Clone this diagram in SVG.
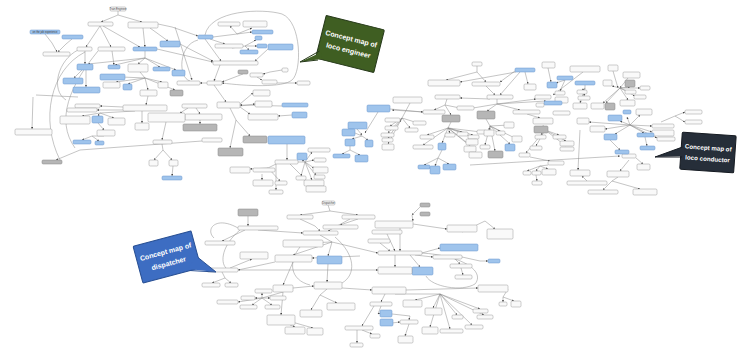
<svg xmlns="http://www.w3.org/2000/svg" width="741" height="348" viewBox="0 0 741 348">
<defs>
<marker id="a" viewBox="0 0 6 6" refX="6" refY="3" markerWidth="4" markerHeight="4" orient="auto"><path d="M0,0 L6,3 L0,6z" fill="#444"/></marker>
<style>
.n{fill:#f9f9f9;stroke:#9a9a9a;stroke-width:0.5}
.b{fill:#9fc4ec;stroke:#6b97cc;stroke-width:0.5}
.g{fill:#b6b6b6;stroke:#868686;stroke-width:0.5}
rect{rx:1.2;ry:1.2}
#connectors path{fill:none;stroke:#8a8a8a;stroke-width:0.5}
.m{marker-end:url(#a)}
.t{font-family:"Liberation Sans",Arial,sans-serif;font-size:2.6px;fill:#333;text-anchor:middle}
.ct{font-family:"Liberation Sans",Arial,sans-serif;font-weight:bold;font-size:7px;fill:#fff;text-anchor:middle}
</style>
</defs>
<rect x="0" y="0" width="741" height="348" fill="#fff" rx="0" ry="0"/>

<g id="connectors">
<!-- engineer -->
<path d="M118,11 L118,15"/>
<path class="m" d="M118,15 L101,22"/>
<path class="m" d="M118,15 L142,22"/>
<path class="m" d="M100,26 L86,47"/>
<path class="m" d="M100,26 L111,47"/>
<path class="m" d="M103,26 L140,47"/>
<path class="m" d="M143,28 L145,47"/>
<path class="m" d="M150,28 L168,41"/>
<path class="m" d="M45,34 L52,43 L57,52"/>
<path class="m" d="M72,39 L66,44 L58,52"/>
<path class="m" d="M85,51 L85,64"/>
<path class="m" d="M112,51 L114,65"/>
<path d="M145,51 L145,58"/>
<path class="m" d="M145,58 L88,64"/>
<path class="m" d="M145,58 L115,65"/>
<path class="m" d="M145,58 L138,64"/>
<path class="m" d="M145,58 L160,67"/>
<path class="m" d="M145,58 L176,70"/>
<path class="m" d="M82,70 L74,78"/>
<path class="m" d="M86,70 L86,87"/>
<path d="M140,72 L145,78"/>
<path class="m" d="M145,78 L122,77"/>
<path class="m" d="M145,78 L116,82"/>
<path class="m" d="M145,78 L128,84"/>
<path class="m" d="M145,78 L162,82"/>
<path class="m" d="M145,78 L175,90"/>
<path class="m" d="M145,78 L148,90"/>
<path class="m" d="M148,96 L146,105"/>
<path class="m" d="M123,107 L100,106"/>
<path class="m" d="M125,110 L97,110"/>
<path d="M135,111 L100,113"/>
<path class="m" d="M100,113 L82,116"/>
<path class="m" d="M100,113 L98,116"/>
<path class="m" d="M100,113 L114,118"/>
<path class="m" d="M98,123 L104,130"/>
<path class="m" d="M104,136 L92,136 L82,140"/>
<path class="m" d="M92,136 L99,141"/>
<path class="m" d="M142,111 L142,123"/>
<path class="m" d="M166,122 L162,140"/>
<path class="m" d="M162,144 L163,150 L154,160"/>
<path class="m" d="M163,150 L172,160"/>
<path class="m" d="M173,166 L172,176"/>
<path class="m" d="M196,108 L200,114"/>
<path class="m" d="M200,120 L200,124"/>
<path class="m" d="M188,108 L180,113"/>
<path class="m" d="M205,39 L221,61"/>
<path d="M213,37 L237,34"/>
<path class="m" d="M237,34 L230,26"/>
<path class="m" d="M237,34 L252,28"/>
<path class="m" d="M237,34 L252,32"/>
<path class="m" d="M210,39 L225,44"/>
<path d="M232,48 L245,46"/>
<path class="m" d="M245,46 L256,40"/>
<path class="m" d="M245,46 L257,46"/>
<path class="m" d="M245,46 L249,50"/>
<path class="m" d="M268,49 L255,61"/>
<path class="m" d="M157,49 L213,62"/>
<path class="m" d="M180,44 L213,61"/>
<path class="m" d="M220,65 L214,81"/>
<path class="m" d="M207,83 L200,83"/>
<path class="m" d="M243,74 L222,82"/>
<path class="m" d="M282,70 L270,72 L263,74"/>
<path class="m" d="M277,83 L297,83"/>
<path class="m" d="M257,77 L262,80"/>
<path class="m" d="M214,85 L226,102"/>
<path class="m" d="M240,104 L253,93"/>
<path class="m" d="M240,106 L255,104"/>
<path class="m" d="M240,107 L250,114"/>
<path class="m" d="M282,106 L240,105"/>
<path class="m" d="M292,115 L278,116"/>
<path d="M230,108 L236,120"/>
<path class="m" d="M236,120 L230,148"/>
<path class="m" d="M236,120 L250,136"/>
<path class="m" d="M287,144 L287,160"/>
<path d="M298,162 L305,162"/>
<path class="m" d="M305,162 L312,152"/>
<path class="m" d="M305,162 L314,160"/>
<path class="m" d="M305,162 L314,168"/>
<path class="m" d="M305,162 L316,175"/>
<path class="m" d="M305,162 L312,180"/>
<path class="m" d="M305,162 L301,176"/>
<path class="m" d="M305,162 L302,160"/>
<path d="M276,164 L268,168"/>
<path class="m" d="M268,168 L250,169"/>
<path class="m" d="M268,168 L263,170"/>
<path class="m" d="M262,174 L262,180"/>
<path class="m" d="M268,168 L280,181"/>
<path class="m" d="M276,164 L276,190"/>
<path class="m" d="M290,164 L312,186"/>
<path class="m" d="M202,141 L80,150 L56,160"/>
<path class="m" d="M33,97 L32,129"/>
<path d="M36,95 L78,97"/>
<path d="M85,52 C50,70 40,120 60,160"/>
<path d="M98,51 C70,85 55,120 75,148"/>
<path d="M78,50 C58,60 50,90 66,100"/>
<path class="m" d="M205,35 C210,10 262,8 282,14 C302,22 302,72 292,80 C283,88 245,86 222,83"/>
<path d="M198,40 C178,45 178,78 190,81"/>
<path class="m" d="M175,27 L192,80"/>
<path class="m" d="M158,24 L172,27 L198,36"/>
<!-- conductor -->
<path d="M477,66 L477,72"/>
<path class="m" d="M477,72 L446,80"/>
<path class="m" d="M477,72 L486,82"/>
<path class="m" d="M515,71 L500,82"/>
<path class="m" d="M516,72 L460,82"/>
<path class="m" d="M525,72 L528,84"/>
<path class="m" d="M520,72 L500,95"/>
<path class="m" d="M486,86 L495,95"/>
<path class="m" d="M490,99 L460,98"/>
<path d="M497,99 L497,104"/>
<path class="m" d="M497,104 L467,109"/>
<path class="m" d="M497,104 L487,111"/>
<path class="m" d="M497,104 L520,110"/>
<path class="m" d="M497,104 L536,99"/>
<path class="m" d="M497,104 L546,101"/>
<path class="m" d="M565,80 L556,83"/>
<path class="m" d="M565,80 L560,91"/>
<path d="M585,85 L585,88"/>
<path class="m" d="M585,88 L582,90"/>
<path class="m" d="M585,88 L584,96"/>
<path class="m" d="M585,88 L580,103"/>
<path class="m" d="M613,71 L618,88"/>
<path class="m" d="M628,78 L620,88"/>
<path class="m" d="M620,88 L612,86"/>
<path class="m" d="M620,88 L630,87"/>
<path class="m" d="M620,88 L640,88"/>
<path class="m" d="M620,88 L630,92"/>
<path class="m" d="M620,88 L635,96"/>
<path class="m" d="M620,88 L628,100"/>
<path class="m" d="M620,88 L603,103"/>
<path class="m" d="M620,88 L606,103"/>
<path class="m" d="M583,72 L553,95"/>
<path class="m" d="M548,68 L551,82"/>
<path d="M447,99 L445,105"/>
<path class="m" d="M445,105 L434,110"/>
<path class="m" d="M445,105 L451,115"/>
<path class="m" d="M445,105 L460,108"/>
<path class="m" d="M423,112 L392,110"/>
<path d="M410,103 L402,118"/>
<path class="m" d="M402,118 L400,122"/>
<path class="m" d="M402,118 L390,126"/>
<path class="m" d="M402,118 L418,123"/>
<path class="m" d="M402,118 L410,128"/>
<path class="m" d="M402,118 L388,133"/>
<path class="m" d="M402,118 L388,138"/>
<path class="m" d="M402,118 L388,144"/>
<path d="M451,122 L448,128"/>
<path class="m" d="M448,128 L427,135"/>
<path class="m" d="M448,128 L423,145"/>
<path class="m" d="M448,128 L442,143"/>
<path class="m" d="M448,128 L450,133"/>
<path class="m" d="M448,128 L462,132"/>
<path class="m" d="M448,128 L473,135"/>
<path class="m" d="M448,128 L481,132"/>
<path class="m" d="M448,128 L472,137"/>
<path class="m" d="M448,128 L470,145"/>
<path class="m" d="M448,128 L475,150"/>
<path d="M486,119 L490,126"/>
<path class="m" d="M490,126 L489,130"/>
<path class="m" d="M490,126 L509,125"/>
<path class="m" d="M490,126 L485,145"/>
<path class="m" d="M490,126 L495,151"/>
<path class="m" d="M490,126 L500,131"/>
<path class="m" d="M490,126 L510,144"/>
<path class="m" d="M490,126 L517,139"/>
<path class="m" d="M527,114 L540,118"/>
<path d="M543,125 L545,130"/>
<path class="m" d="M545,130 L541,135"/>
<path class="m" d="M545,130 L559,135"/>
<path class="m" d="M545,130 L566,141"/>
<path class="m" d="M545,130 L566,146"/>
<path class="m" d="M545,130 L536,146"/>
<path class="m" d="M545,130 L526,153"/>
<path class="m" d="M530,157 L550,161"/>
<path d="M548,165 L540,166"/>
<path class="m" d="M540,166 L527,171"/>
<path class="m" d="M540,166 L536,171"/>
<path class="m" d="M540,166 L548,169"/>
<path class="m" d="M536,175 L537,181"/>
<path class="m" d="M470,165 L620,156"/>
<path class="m" d="M438,158 L424,165"/>
<path class="m" d="M438,158 L435,166"/>
<path class="m" d="M438,158 L449,164"/>
<path d="M438,158 L442,150"/>
<path class="m" d="M580,130 L578,170"/>
<path class="m" d="M587,181 L582,176"/>
<path d="M618,177 L612,181"/>
<path class="m" d="M612,181 L603,190"/>
<path class="m" d="M612,181 L640,189"/>
<path class="m" d="M629,160 L620,171"/>
<path class="m" d="M636,158 L643,164"/>
<path class="m" d="M630,125 L620,121"/>
<path class="m" d="M630,125 L627,117"/>
<path class="m" d="M630,125 L640,115"/>
<path class="m" d="M630,125 L652,126"/>
<path class="m" d="M630,125 L652,132"/>
<path class="m" d="M630,125 L657,138"/>
<path class="m" d="M630,125 L644,133"/>
<path class="m" d="M630,125 L615,134"/>
<path class="m" d="M630,125 L605,129"/>
<path class="m" d="M630,125 L589,122"/>
<path d="M661,122 L675,116"/>
<path class="m" d="M675,116 L685,112"/>
<path class="m" d="M675,116 L685,122"/>
<path class="m" d="M610,140 L620,150"/>
<path class="m" d="M645,137 L647,146"/>
<path class="m" d="M378,112 L365,133"/>
<path class="m" d="M357,129 L362,135"/>
<path d="M355,133 L362,136"/>
<path class="m" d="M362,136 L352,139"/>
<path class="m" d="M362,136 L368,140"/>
<path d="M350,146 L350,150"/>
<path class="m" d="M350,150 L342,154"/>
<path class="m" d="M350,150 L360,155"/>
<path class="m" d="M390,109 L423,112"/>
<!-- dispatcher -->
<path d="M328,205 L330,211"/>
<path class="m" d="M330,211 L300,215"/>
<path class="m" d="M330,211 L358,215"/>
<path d="M300,219 L315,226"/>
<path class="m" d="M315,226 L320,231"/>
<path class="m" d="M358,219 L340,225"/>
<path class="m" d="M350,219 L328,231"/>
<path d="M320,235 L332,242"/>
<path class="m" d="M332,242 L305,243"/>
<path class="m" d="M332,242 L293,255"/>
<path class="m" d="M332,242 L328,256"/>
<path class="m" d="M332,242 L378,253"/>
<path class="m" d="M258,230 L303,233"/>
<path class="m" d="M248,216 L248,226"/>
<path class="m" d="M245,230 L222,241"/>
<path class="m" d="M412,215 L413,221"/>
<path class="m" d="M420,207 L412,215"/>
<path class="m" d="M400,228 L400,251"/>
<path class="m" d="M413,224 L447,229"/>
<path class="m" d="M462,232 L485,221 L495,229"/>
<path class="m" d="M422,253 L440,248"/>
<path class="m" d="M387,234 L395,251"/>
<path class="m" d="M380,243 L390,251"/>
<path class="m" d="M415,255 L433,257"/>
<path class="m" d="M462,257 L480,261 L488,261"/>
<path class="m" d="M410,255 L420,267"/>
<path class="m" d="M395,255 L395,267"/>
<path class="m" d="M455,259 L460,264"/>
<path class="m" d="M461,268 L463,275"/>
<path d="M222,272 L225,278"/>
<path class="m" d="M225,278 L212,283"/>
<path class="m" d="M225,278 L231,283"/>
<path class="m" d="M230,268 L252,259"/>
<path class="m" d="M275,262 L238,270"/>
<path class="m" d="M238,270 L378,270"/>
<path class="m" d="M360,256 L312,258"/>
<path class="m" d="M293,262 L283,285"/>
<path class="m" d="M328,264 L327,282"/>
<path class="m" d="M342,288 L372,290"/>
<path class="m" d="M293,288 L314,286"/>
<path class="m" d="M406,290 L478,288"/>
<path d="M508,289 L503,297"/>
<path class="m" d="M503,297 L503,302"/>
<path class="m" d="M503,297 L514,301"/>
<path d="M327,289 L320,295"/>
<path class="m" d="M320,295 L337,303"/>
<path class="m" d="M320,295 L311,310"/>
<path d="M283,292 L262,298"/>
<path class="m" d="M262,298 L262,293"/>
<path class="m" d="M262,298 L238,302"/>
<path class="m" d="M262,298 L255,298"/>
<path class="m" d="M262,298 L270,298"/>
<path class="m" d="M262,298 L252,305"/>
<path class="m" d="M262,298 L272,305"/>
<path class="m" d="M283,292 L281,315"/>
<path class="m" d="M290,325 L295,327"/>
<path class="m" d="M292,322 L313,328"/>
<path d="M395,294 L440,294"/>
<path class="m" d="M440,294 L415,300"/>
<path class="m" d="M440,294 L433,308"/>
<path class="m" d="M440,294 L430,327"/>
<path class="m" d="M440,294 L450,329"/>
<path class="m" d="M440,294 L472,325"/>
<path class="m" d="M440,294 L457,315"/>
<path class="m" d="M440,294 L480,309"/>
<path class="m" d="M440,294 L484,315"/>
<path class="m" d="M385,294 L381,302"/>
<path d="M381,306 L378,314"/>
<path class="m" d="M378,314 L380,313"/>
<path class="m" d="M392,314 L410,316 L409,320"/>
<path class="m" d="M392,323 L400,322"/>
<path class="m" d="M409,324 L405,336"/>
<path class="m" d="M374,306 L362,326"/>
<path class="m" d="M362,330 L372,334"/>
<path class="m" d="M357,330 L357,343"/>
<path d="M422,253 C465,256 485,272 475,284 C462,292 432,287 426,276"/>
<path d="M240,230 C222,245 220,262 226,268"/>
<path d="M335,237 C356,255 356,275 342,283"/>
<path d="M300,247 C288,262 290,280 310,285"/>
<path d="M238,228 C215,215 205,230 214,238"/>
</g>

<g id="engineer-map">
<g id="e1"><rect class="n" x="110" y="7" width="16" height="4"/><text class="t" x="118" y="10">Train Engineer</text></g>
<g id="e2"><rect class="n" x="88" y="22" width="25" height="4"/></g>
<g id="e3"><rect class="n" x="128" y="22" width="30" height="6"/></g>
<g id="e4"><rect class="b" x="30" y="30" width="30" height="4"/><text class="t" x="45" y="33">on the job experience</text></g>
<g id="e5"><rect class="b" x="62" y="35" width="21" height="4"/></g>
<g id="e6"><rect class="n" x="43" y="52" width="27" height="4"/></g>
<g id="e7"><rect class="n" x="77" y="47" width="15" height="4"/></g>
<g id="e8"><rect class="n" x="98" y="47" width="27" height="4"/></g>
<g id="e9"><rect class="b" x="133" y="47" width="24" height="4"/></g>
<g id="e10"><rect class="b" x="160" y="41" width="20" height="6"/></g>
<g id="e11"><rect class="b" x="198" y="35" width="15" height="4"/></g>
<g id="e12"><rect class="n" x="218" y="22" width="22" height="4"/></g>
<g id="e13"><rect class="n" x="243" y="21" width="24" height="6"/></g>
<g id="e14"><rect class="b" x="252" y="30" width="21" height="4"/></g>
<g id="e15"><rect class="n" x="215" y="44" width="28" height="4"/></g>
<g id="e16"><rect class="b" x="255" y="36" width="7" height="4"/></g>
<g id="e17"><rect class="b" x="257" y="44" width="10" height="4"/></g>
<g id="e18"><rect class="b" x="240" y="50" width="18" height="4"/></g>
<g id="e19"><rect class="b" x="268" y="44" width="25" height="6"/></g>
<g id="e20"><rect class="n" x="213" y="61" width="45" height="4"/></g>
<g id="e21"><rect class="b" x="77" y="64" width="16" height="6"/></g>
<g id="e22"><rect class="b" x="108" y="65" width="12" height="4"/></g>
<g id="e23"><rect class="n" x="128" y="64" width="20" height="8"/></g>
<g id="e24"><rect class="b" x="153" y="67" width="17" height="4"/></g>
<g id="e25"><rect class="b" x="172" y="70" width="13" height="6"/></g>
<g id="e26"><rect class="b" x="63" y="78" width="20" height="6"/></g>
<g id="e27"><rect class="b" x="73" y="87" width="27" height="6"/></g>
<g id="e28"><rect class="b" x="100" y="74" width="25" height="6"/></g>
<g id="e29"><rect class="n" x="103" y="82" width="17" height="6"/></g>
<g id="e30"><rect class="b" x="123" y="84" width="9" height="6"/></g>
<g id="e31"><rect class="n" x="158" y="82" width="10" height="6"/></g>
<g id="e32"><rect class="g" x="170" y="90" width="13" height="6"/></g>
<g id="e33"><rect class="n" x="140" y="90" width="17" height="6"/></g>
<g id="e34"><rect class="n" x="177" y="81" width="23" height="4"/></g>
<g id="e35"><rect class="n" x="207" y="81" width="15" height="4"/></g>
<g id="e36"><rect class="g" x="238" y="70" width="10" height="4"/></g>
<g id="e37"><rect class="n" x="250" y="73" width="13" height="4"/></g>
<g id="e38"><rect class="n" x="282" y="68" width="6" height="4"/></g>
<g id="e39"><rect class="n" x="262" y="80" width="15" height="4"/></g>
<g id="e40"><rect class="n" x="297" y="81" width="13" height="4"/></g>
<g id="e41"><rect class="n" x="253" y="90" width="17" height="6"/></g>
<g id="e42"><rect class="n" x="255" y="101" width="17" height="6"/></g>
<g id="e43"><rect class="n" x="217" y="102" width="23" height="6"/></g>
<g id="e44"><rect class="b" x="282" y="103" width="26" height="4"/></g>
<g id="e45"><rect class="b" x="292" y="112" width="15" height="6"/></g>
<g id="e46"><rect class="n" x="248" y="114" width="30" height="6"/></g>
<g id="e47"><rect class="n" x="182" y="104" width="25" height="4"/></g>
<g id="e48"><rect class="n" x="185" y="114" width="37" height="6"/></g>
<g id="e49"><rect class="g" x="183" y="124" width="34" height="7"/></g>
<g id="e50"><rect class="n" x="148" y="113" width="37" height="9"/></g>
<g id="e51"><rect class="n" x="123" y="105" width="44" height="6"/></g>
<g id="e52"><rect class="n" x="75" y="104" width="25" height="4"/></g>
<g id="e53"><rect class="n" x="67" y="108" width="30" height="4"/></g>
<g id="e54"><rect class="n" x="60" y="116" width="30" height="8"/></g>
<g id="e55"><rect class="b" x="92" y="116" width="11" height="7"/></g>
<g id="e56"><rect class="n" x="108" y="118" width="17" height="7"/></g>
<g id="e57"><rect class="n" x="97" y="130" width="18" height="6"/></g>
<g id="e58"><rect class="b" x="73" y="140" width="18" height="4"/></g>
<g id="e59"><rect class="b" x="95" y="141" width="9" height="4"/></g>
<g id="e60"><rect class="n" x="135" y="123" width="14" height="7"/></g>
<g id="e61"><rect class="n" x="15" y="129" width="37" height="6"/></g>
<g id="e62"><rect class="g" x="42" y="160" width="20" height="4"/></g>
<g id="e63"><rect class="n" x="153" y="140" width="19" height="4"/></g>
<g id="e64"><rect class="n" x="149" y="160" width="9" height="6"/></g>
<g id="e65"><rect class="n" x="169" y="160" width="9" height="6"/></g>
<g id="e66"><rect class="b" x="162" y="176" width="20" height="4"/></g>
<g id="e67"><rect class="n" x="202" y="138" width="20" height="4"/></g>
<g id="e68"><rect class="g" x="218" y="148" width="25" height="8"/></g>
<g id="e69"><rect class="g" x="243" y="136" width="24" height="7"/></g>
<g id="e70"><rect class="b" x="268" y="136" width="37" height="8"/></g>
<g id="e71"><rect class="n" x="275" y="160" width="23" height="4"/></g>
<g id="e72"><rect class="b" x="297" y="153" width="10" height="7"/></g>
<g id="e73"><rect class="n" x="308" y="148" width="22" height="4"/></g>
<g id="e74"><rect class="n" x="314" y="158" width="12" height="4"/></g>
<g id="e75"><rect class="n" x="313" y="167" width="15" height="6"/></g>
<g id="e76"><rect class="n" x="314" y="175" width="11" height="4"/></g>
<g id="e77"><rect class="n" x="304" y="180" width="20" height="6"/></g>
<g id="e78"><rect class="n" x="296" y="176" width="10" height="4"/></g>
<g id="e79"><rect class="n" x="230" y="167" width="20" height="6"/></g>
<g id="e80"><rect class="n" x="253" y="168" width="22" height="4"/></g>
<g id="e81"><rect class="n" x="253" y="180" width="20" height="6"/></g>
<g id="e82"><rect class="n" x="275" y="181" width="12" height="4"/></g>
<g id="e83"><rect class="n" x="269" y="190" width="14" height="4"/></g>
<g id="e84"><rect class="n" x="306" y="186" width="20" height="6"/></g>
</g>

<g id="conductor-map">
<g id="c1"><rect class="n" x="472" y="62" width="10" height="4"/></g>
<g id="c2"><rect class="b" x="515" y="68" width="20" height="4"/></g>
<g id="c3"><rect class="n" x="542" y="62" width="13" height="6"/></g>
<g id="c4"><rect class="n" x="570" y="66" width="30" height="6"/></g>
<g id="c5"><rect class="n" x="608" y="65" width="10" height="6"/></g>
<g id="c6"><rect class="n" x="623" y="72" width="17" height="6"/></g>
<g id="c7"><rect class="n" x="603" y="80" width="9" height="6"/></g>
<g id="c8"><rect class="g" x="625" y="80" width="10" height="7"/></g>
<g id="c9"><rect class="n" x="640" y="86" width="10" height="4"/></g>
<g id="c10"><rect class="n" x="428" y="80" width="32" height="6"/></g>
<g id="c11"><rect class="n" x="472" y="82" width="28" height="4"/></g>
<g id="c12"><rect class="n" x="524" y="84" width="12" height="6"/></g>
<g id="c13"><rect class="b" x="547" y="82" width="10" height="6"/></g>
<g id="c14"><rect class="b" x="557" y="76" width="16" height="4"/></g>
<g id="c15"><rect class="b" x="575" y="81" width="20" height="4"/></g>
<g id="c16"><rect class="n" x="393" y="97" width="29" height="6"/></g>
<g id="c17"><rect class="n" x="435" y="95" width="25" height="4"/></g>
<g id="c18"><rect class="n" x="487" y="95" width="26" height="4"/></g>
<g id="c19"><rect class="n" x="535" y="95" width="16" height="4"/></g>
<g id="c20"><rect class="n" x="555" y="91" width="10" height="4"/></g>
<g id="c21"><rect class="n" x="555" y="97" width="13" height="6"/></g>
<g id="c22"><rect class="b" x="544" y="101" width="18" height="4"/></g>
<g id="c23"><rect class="n" x="577" y="90" width="10" height="4"/></g>
<g id="c24"><rect class="n" x="578" y="96" width="12" height="4"/></g>
<g id="c25"><rect class="n" x="573" y="103" width="14" height="6"/></g>
<g id="c26"><rect class="n" x="591" y="103" width="13" height="6"/></g>
<g id="c27"><rect class="g" x="605" y="103" width="10" height="7"/></g>
<g id="c28"><rect class="n" x="625" y="90" width="11" height="4"/></g>
<g id="c29"><rect class="n" x="634" y="95" width="12" height="4"/></g>
<g id="c30"><rect class="n" x="620" y="100" width="15" height="6"/></g>
<g id="c32"><rect class="n" x="423" y="110" width="22" height="4"/></g>
<g id="c33"><rect class="n" x="457" y="106" width="17" height="4"/></g>
<g id="c34"><rect class="g" x="442" y="115" width="18" height="7"/></g>
<g id="c35"><rect class="g" x="477" y="111" width="18" height="8"/></g>
<g id="c36"><rect class="n" x="513" y="110" width="27" height="4"/></g>
<g id="c37"><rect class="n" x="536" y="103" width="8" height="4"/></g>
<g id="c38"><rect class="n" x="553" y="111" width="17" height="4"/></g>
<g id="c39"><rect class="n" x="385" y="118" width="15" height="4"/></g>
<g id="c40"><rect class="n" x="385" y="126" width="13" height="4"/></g>
<g id="c41"><rect class="n" x="413" y="121" width="13" height="4"/></g>
<g id="c42"><rect class="n" x="405" y="128" width="13" height="4"/></g>
<g id="c43"><rect class="n" x="381" y="133" width="13" height="4"/></g>
<g id="c44"><rect class="n" x="382" y="138" width="11" height="4"/></g>
<g id="c45"><rect class="n" x="382" y="144" width="12" height="6"/></g>
<g id="c46"><rect class="n" x="420" y="135" width="14" height="4"/></g>
<g id="c47"><rect class="n" x="413" y="145" width="20" height="4"/></g>
<g id="c48"><rect class="b" x="438" y="143" width="8" height="7"/></g>
<g id="c49"><rect class="n" x="445" y="133" width="10" height="4"/></g>
<g id="c50"><rect class="n" x="457" y="132" width="11" height="4"/></g>
<g id="c51"><rect class="n" x="468" y="135" width="11" height="4"/></g>
<g id="c52"><rect class="n" x="477" y="130" width="9" height="4"/></g>
<g id="c53"><rect class="n" x="466" y="139" width="12" height="6"/></g>
<g id="c54"><rect class="n" x="464" y="146" width="12" height="6"/></g>
<g id="c55"><rect class="n" x="469" y="152" width="13" height="6"/></g>
<g id="c56"><rect class="n" x="484" y="130" width="10" height="6"/></g>
<g id="c57"><rect class="n" x="504" y="122" width="10" height="6"/></g>
<g id="c58"><rect class="n" x="480" y="145" width="10" height="4"/></g>
<g id="c59"><rect class="g" x="488" y="151" width="15" height="7"/></g>
<g id="c60"><rect class="n" x="496" y="131" width="9" height="4"/></g>
<g id="c61"><rect class="b" x="505" y="144" width="10" height="7"/></g>
<g id="c62"><rect class="n" x="512" y="136" width="10" height="6"/></g>
<g id="c63"><rect class="n" x="533" y="118" width="20" height="6"/></g>
<g id="c64"><rect class="g" x="534" y="126" width="14" height="7"/></g>
<g id="c65"><rect class="n" x="535" y="135" width="11" height="4"/></g>
<g id="c66"><rect class="n" x="553" y="135" width="13" height="4"/></g>
<g id="c67"><rect class="n" x="560" y="141" width="14" height="5"/></g>
<g id="c68"><rect class="n" x="560" y="147" width="14" height="4"/></g>
<g id="c69"><rect class="n" x="530" y="146" width="12" height="4"/></g>
<g id="c70"><rect class="n" x="519" y="153" width="11" height="4"/></g>
<g id="c72"><rect class="n" x="548" y="161" width="16" height="4"/></g>
<g id="c73"><rect class="n" x="523" y="171" width="8" height="4"/></g>
<g id="c74"><rect class="n" x="532" y="171" width="9" height="4"/></g>
<g id="c75"><rect class="n" x="542" y="169" width="14" height="6"/></g>
<g id="c76"><rect class="n" x="532" y="181" width="10" height="4"/></g>
<g id="c77"><rect class="n" x="570" y="170" width="20" height="6"/></g>
<g id="c78"><rect class="n" x="567" y="181" width="40" height="4"/></g>
<g id="c80"><rect class="n" x="607" y="171" width="22" height="6"/></g>
<g id="c81"><rect class="n" x="588" y="190" width="30" height="4"/></g>
<g id="c82"><rect class="n" x="633" y="189" width="24" height="6"/></g>
<g id="c83"><rect class="n" x="622" y="154" width="14" height="4"/></g>
<g id="c84"><rect class="n" x="637" y="164" width="13" height="6"/></g>
<g id="c85"><rect class="b" x="418" y="165" width="12" height="4"/></g>
<g id="c86"><rect class="b" x="430" y="166" width="10" height="8"/></g>
<g id="c87"><rect class="b" x="443" y="164" width="13" height="6"/></g>
<g id="c89"><rect class="b" x="608" y="115" width="14" height="6"/></g>
<g id="c90"><rect class="b" x="623" y="110" width="8" height="4"/></g>
<g id="c91"><rect class="n" x="636" y="109" width="16" height="6"/></g>
<g id="c92"><rect class="n" x="652" y="124" width="22" height="4"/></g>
<g id="c93"><rect class="n" x="652" y="130" width="22" height="6"/></g>
<g id="c94"><rect class="n" x="657" y="137" width="18" height="4"/></g>
<g id="c95"><rect class="b" x="637" y="133" width="17" height="4"/></g>
<g id="c96"><rect class="b" x="604" y="134" width="13" height="6"/></g>
<g id="c98"><rect class="b" x="640" y="146" width="15" height="4"/></g>
<g id="c99"><rect class="n" x="590" y="126" width="15" height="6"/></g>
<g id="c100"><rect class="n" x="577" y="118" width="12" height="6"/></g>
<g id="c101"><rect class="n" x="685" y="110" width="17" height="4"/></g>
<g id="c102"><rect class="n" x="685" y="120" width="17" height="4"/></g>
<g id="c103"><rect class="b" x="615" y="150" width="14" height="4"/></g>
<g id="b1"><rect class="b" x="367" y="105" width="23" height="7"/></g>
<g id="b2"><rect class="b" x="348" y="122" width="19" height="7"/></g>
<g id="b3"><rect class="b" x="342" y="129" width="13" height="7"/></g>
<g id="b4"><rect class="b" x="345" y="139" width="10" height="7"/></g>
<g id="b5"><rect class="b" x="365" y="140" width="8" height="7"/></g>
<g id="b6"><rect class="b" x="333" y="154" width="17" height="4"/></g>
<g id="b7"><rect class="b" x="355" y="155" width="13" height="7"/></g>
</g>

<g id="dispatcher-map">
<g id="d1"><rect class="n" x="322" y="201" width="13" height="4"/><text class="t" x="328.5" y="204">Dispatcher</text></g>
<g id="d2"><rect class="n" x="287" y="215" width="26" height="4"/></g>
<g id="d3"><rect class="n" x="342" y="215" width="33" height="4"/></g>
<g id="d4"><rect class="g" x="238" y="209" width="20" height="7"/></g>
<g id="d5"><rect class="g" x="420" y="203" width="10" height="4"/></g>
<g id="d6"><rect class="g" x="420" y="212" width="10" height="4"/></g>
<g id="d7"><rect class="n" x="375" y="221" width="38" height="7"/></g>
<g id="d8"><rect class="n" x="323" y="225" width="35" height="4"/></g>
<g id="d9"><rect class="n" x="303" y="231" width="35" height="4"/></g>
<g id="d10"><rect class="n" x="238" y="226" width="40" height="4"/></g>
<g id="d11"><rect class="n" x="447" y="225" width="30" height="7"/></g>
<g id="d12"><rect class="n" x="487" y="229" width="26" height="10"/></g>
<g id="d13"><rect class="n" x="205" y="241" width="30" height="4"/></g>
<g id="d14"><rect class="n" x="372" y="230" width="30" height="4"/></g>
<g id="d15"><rect class="n" x="368" y="239" width="22" height="4"/></g>
<g id="d16"><rect class="n" x="283" y="240" width="40" height="7"/></g>
<g id="d17"><rect class="n" x="378" y="251" width="44" height="4"/></g>
<g id="d18"><rect class="b" x="440" y="244" width="38" height="7"/></g>
<g id="d19"><rect class="n" x="240" y="252" width="28" height="7"/></g>
<g id="d20"><rect class="n" x="275" y="255" width="37" height="7"/></g>
<g id="d21"><rect class="b" x="317" y="256" width="25" height="8"/></g>
<g id="d22"><rect class="n" x="433" y="255" width="29" height="4"/></g>
<g id="d23"><rect class="b" x="488" y="259" width="12" height="4"/></g>
<g id="d24"><rect class="n" x="450" y="264" width="22" height="4"/></g>
<g id="d25"><rect class="b" x="412" y="267" width="21" height="8"/></g>
<g id="d26"><rect class="n" x="378" y="267" width="34" height="7"/></g>
<g id="d27"><rect class="n" x="207" y="268" width="31" height="4"/></g>
<g id="d28"><rect class="n" x="455" y="275" width="17" height="4"/></g>
<g id="d29"><rect class="n" x="202" y="283" width="18" height="4"/></g>
<g id="d30"><rect class="n" x="225" y="283" width="13" height="4"/></g>
<g id="d31"><rect class="n" x="273" y="285" width="20" height="7"/></g>
<g id="d32"><rect class="n" x="314" y="282" width="28" height="7"/></g>
<g id="d33"><rect class="n" x="372" y="287" width="34" height="7"/></g>
<g id="d34"><rect class="n" x="478" y="285" width="30" height="7"/></g>
<g id="d35"><rect class="n" x="499" y="302" width="8" height="4"/></g>
<g id="d36"><rect class="n" x="511" y="301" width="10" height="6"/></g>
<g id="d37"><rect class="n" x="255" y="289" width="17" height="4"/></g>
<g id="d38"><rect class="n" x="217" y="300" width="21" height="4"/></g>
<g id="d39"><rect class="n" x="241" y="296" width="14" height="4"/></g>
<g id="d40"><rect class="n" x="270" y="296" width="16" height="4"/></g>
<g id="d41"><rect class="n" x="240" y="305" width="17" height="4"/></g>
<g id="d42"><rect class="n" x="265" y="305" width="15" height="4"/></g>
<g id="d43"><rect class="n" x="327" y="303" width="28" height="7"/></g>
<g id="d44"><rect class="n" x="300" y="310" width="22" height="7"/></g>
<g id="d45"><rect class="n" x="267" y="315" width="28" height="10"/></g>
<g id="d46"><rect class="n" x="285" y="327" width="20" height="7"/></g>
<g id="d47"><rect class="n" x="307" y="328" width="16" height="7"/></g>
<g id="d48"><rect class="n" x="370" y="302" width="22" height="4"/></g>
<g id="d49"><rect class="b" x="380" y="310" width="12" height="7"/></g>
<g id="d50"><rect class="b" x="380" y="319" width="13" height="7"/></g>
<g id="d51"><rect class="n" x="400" y="320" width="18" height="4"/></g>
<g id="d52"><rect class="n" x="398" y="336" width="15" height="7"/></g>
<g id="d53"><rect class="n" x="345" y="326" width="28" height="4"/></g>
<g id="d54"><rect class="n" x="370" y="334" width="10" height="4"/></g>
<g id="d55"><rect class="n" x="350" y="343" width="13" height="4"/></g>
<g id="d56"><rect class="n" x="403" y="300" width="19" height="7"/></g>
<g id="d57"><rect class="n" x="425" y="308" width="17" height="7"/></g>
<g id="d58"><rect class="n" x="422" y="327" width="16" height="7"/></g>
<g id="d59"><rect class="n" x="440" y="329" width="23" height="4"/></g>
<g id="d60"><rect class="n" x="465" y="325" width="18" height="4"/></g>
<g id="d61"><rect class="n" x="452" y="315" width="11" height="4"/></g>
<g id="d62"><rect class="n" x="473" y="309" width="15" height="4"/></g>
<g id="d63"><rect class="n" x="477" y="315" width="16" height="4"/></g>
</g>

<g id="callout-engineer">
<g transform="rotate(14 350 44)">
<rect x="320" y="22" width="60" height="44" rx="5" ry="5" fill="#3f5e22" stroke="#26391a" stroke-width="1"/>
</g>
<path d="M322,52 L300,62 L321,59 Z" fill="#3f5e22"/>
<path d="M319.5,51 L300,62 L318,60" fill="none" stroke="#26391a" stroke-width="1"/>
<g transform="rotate(14 350 44)">
<text class="ct" x="350" y="41">Concept map of</text>
<text class="ct" x="350" y="53">loco engineer</text>
</g>
</g>

<g id="callout-conductor">
<g transform="rotate(4 708 152)">
<rect x="681" y="134" width="54" height="37" rx="5" ry="5" fill="#262e39" stroke="#161b22" stroke-width="1"/>
</g>
<path d="M685,146 L655,157 L684,156 Z" fill="#262e39"/>
<path d="M682.5,147 L655,157 L682,157" fill="none" stroke="#161b22" stroke-width="1"/>
<g transform="rotate(4 708 152)">
<text class="ct" x="708" y="150" style="font-size:6.2px">Concept map of</text>
<text class="ct" x="708" y="161" style="font-size:6.2px">loco conductor</text>
</g>
</g>

<g id="callout-dispatcher">
<g transform="rotate(-15 167 257)">
<rect x="137" y="238" width="60" height="38" rx="5" ry="5" fill="#3d6dc2" stroke="#284f93" stroke-width="1"/>
</g>
<path d="M196,256 L216,272 L188,269 Z" fill="#3d6dc2"/>
<path d="M198,257.5 L216,272 L189.5,270.5" fill="none" stroke="#284f93" stroke-width="1"/>
<g transform="rotate(-15 167 257)">
<text class="ct" x="167" y="254">Concept map of</text>
<text class="ct" x="167" y="266">dispatcher</text>
</g>
</g>
</svg>
